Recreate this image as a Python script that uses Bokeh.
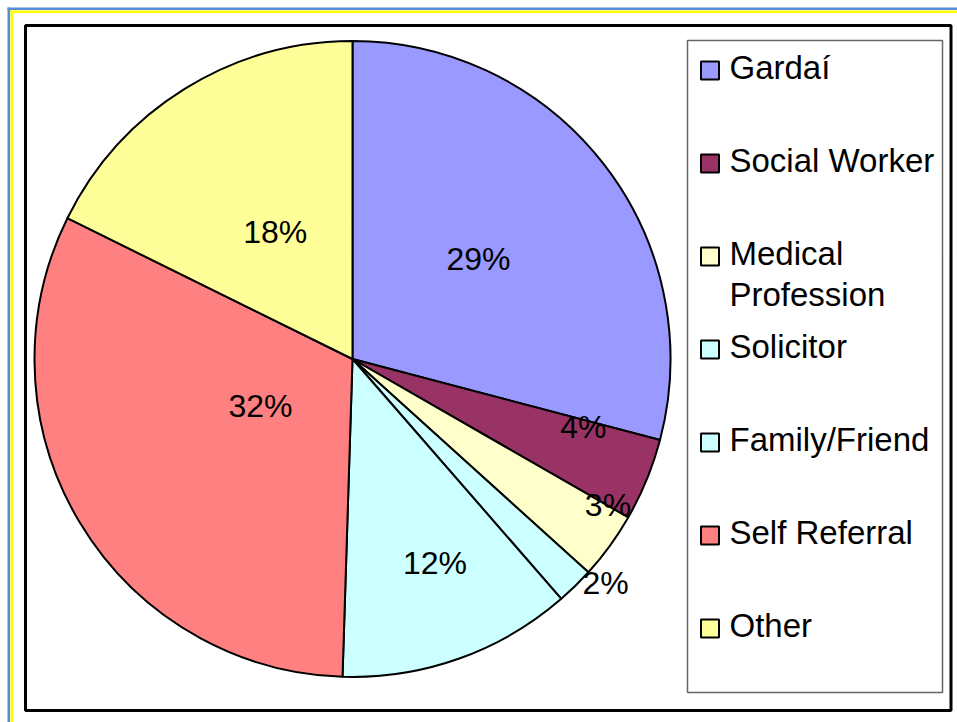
import math
from bokeh.plotting import figure
from bokeh.models import Range1d
from bokeh.core.properties import value
from bokeh.embed import file_html
from bokeh.resources import INLINE

# ---- data ----
categories = ["Gardaí", "Social Worker", "Medical Profession", "Solicitor",
              "Family/Friend", "Self Referral", "Other"]
legend_labels = ["Gardaí", "Social Worker", "Medical\nProfession", "Solicitor",
                 "Family/Friend", "Self Referral", "Other"]
shares = [29.1, 4.2, 3.4, 1.9, 11.9, 31.8, 17.7]
colors = ["#9999FF", "#993366", "#FFFFCC", "#CCFFFF", "#CCFFFF", "#FF8080", "#FFFF99"]
# label layout: distance from centre (fraction of radius) and position within slice
label_radius = [0.50, 0.76, 0.93, 1.07, 0.70, 0.33, 0.46]
label_frac = [0.50, 0.16, 0.03, -0.03, 0.45, 0.52, 0.50]

W, H = 957, 722
FONT = "Liberation Sans"


def X(sx):
    return sx


def Y(sy):
    return H - sy


p = figure(width=W, height=H, x_range=Range1d(0, W), y_range=Range1d(0, H),
           output_backend="svg", toolbar_location=None, min_border=0,
           background_fill_color="white", border_fill_color="white")
p.axis.visible = False
p.grid.visible = False
p.outline_line_color = None

# page frame lines (blue / yellow)
p.quad(left=X(7), right=X(9.6), bottom=-5, top=Y(7), fill_color="#558ED5", line_color=None)
p.quad(left=X(7), right=W + 5, bottom=Y(9.6), top=Y(7), fill_color="#558ED5", line_color=None)
p.quad(left=X(10), right=X(12.6), bottom=-5, top=Y(10), fill_color="#FFFF00", line_color=None)
p.quad(left=X(10), right=W + 5, bottom=Y(12.6), top=Y(10), fill_color="#FFFF00", line_color=None)

# chart area border
p.quad(left=X(25), right=X(950.5), bottom=Y(710), top=Y(25), fill_color="white",
       line_color="black", line_width=3)

# pie
cx, cy, R = X(352), Y(358.5), 318
total = sum(shares)
starts, ends, lab_ang = [], [], []
acc = 0.0
for v, f in zip(shares, label_frac):
    a0 = math.pi / 2 - 2 * math.pi * acc / total
    acc += v
    a1 = math.pi / 2 - 2 * math.pi * acc / total
    starts.append(a0)
    ends.append(a1)
    lab_ang.append(a0 + (a1 - a0) * f)

p.wedge(x=cx, y=cy, radius=R, start_angle=starts, end_angle=ends, direction="clock",
        fill_color=colors, line_color="black", line_width=2)

lx = [cx + r * R * math.cos(m) for r, m in zip(label_radius, lab_ang)]
ly = [cy + r * R * math.sin(m) + 3 for r, m in zip(label_radius, lab_ang)]
ltxt = [f"{round(v)}%" for v in shares]
p.text(x=lx, y=ly, text=ltxt, text_align="center", text_baseline="middle",
       text_font=value(FONT), text_font_size="32px", text_color="black")

# legend
p.quad(left=X(687), right=X(942), bottom=Y(692), top=Y(40), fill_color="white",
       line_color="#666666", line_width=1.5)
step = 93
mk_x, mk_y = [], []
tx, ty, tt = [], [], []
for i, lab in enumerate(legend_labels):
    sy = 70 + i * step
    mk_x.append(X(709.5))
    mk_y.append(Y(sy))
    for j, line in enumerate(lab.split("\n")):
        tx.append(X(729))
        ty.append(Y(sy - 3 + j * 41))
        tt.append(line)
p.rect(x=mk_x, y=mk_y, width=18, height=18, fill_color=colors, line_color="black",
       line_width=2)
p.text(x=tx, y=ty, text=tt, text_align="left", text_baseline="middle",
       text_font=value(FONT), text_font_size="33px", text_color="black")

open("out.html", "w").write(file_html(p, INLINE))
